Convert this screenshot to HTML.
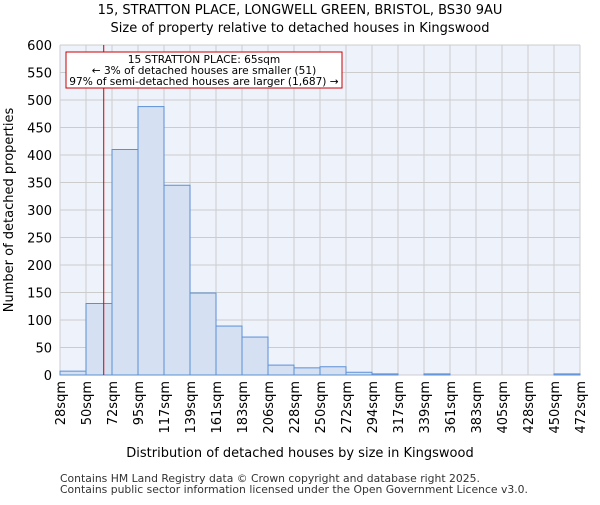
<!DOCTYPE html>
<html><head><meta charset="utf-8"><style>
body{margin:0;background:#fff;}
svg{font-family:"DejaVu Sans","Liberation Sans",sans-serif;}
</style></head><body>
<svg id="chart" width="600" height="500" xmlns="http://www.w3.org/2000/svg">
<text x="300" y="14" text-anchor="middle" font-size="13">15, STRATTON PLACE, LONGWELL GREEN, BRISTOL, BS30 9AU</text>
<text x="300" y="32" text-anchor="middle" font-size="13">Size of property relative to detached houses in Kingswood</text>
<rect x="60" y="45" width="520" height="330" fill="#eef2fb"/>
<g id="grid"></g>
<g id="bars"></g>
<g id="axes"></g>
<text x="300" y="457" text-anchor="middle" font-size="13">Distribution of detached houses by size in Kingswood</text>
<text transform="translate(13,210) rotate(-90)" text-anchor="middle" font-size="13">Number of detached properties</text>
<rect x="66" y="52" width="276" height="36" fill="#fff" stroke="#cc0000" stroke-width="1"/>
<text x="204" y="63" text-anchor="middle" font-size="10.6">15 STRATTON PLACE: 65sqm</text>
<text x="204" y="74" text-anchor="middle" font-size="10.6">← 3% of detached houses are smaller (51)</text>
<text x="204" y="85" text-anchor="middle" font-size="10.6">97% of semi-detached houses are larger (1,687) →</text>
<text x="60" y="482" font-size="10.8" fill="#333">Contains HM Land Registry data © Crown copyright and database right 2025.</text>
<text x="60" y="493" font-size="10.8" fill="#333">Contains public sector information licensed under the Open Government Licence v3.0.</text>
</svg>
<script>
const binLabels=["28sqm","50sqm","72sqm","95sqm","117sqm","139sqm","161sqm","183sqm","206sqm","228sqm","250sqm","272sqm","294sqm","317sqm","339sqm","361sqm","383sqm","405sqm","428sqm","450sqm","472sqm"];
const counts=[7,130,410,488,345,149,89,69,18,13,15,5,2,0,2,0,0,0,0,2];
const yTicks=[0,50,100,150,200,250,300,350,400,450,500,550,600];
const binEdges=[28,50,72,95,117,139,161,183,206,228,250,272,294,317,339,361,383,405,428,450,472];
const propertySize=65;
const NS="http://www.w3.org/2000/svg";
const X0=60,X1=580,Y0=375,Y1=45,yMax=600;
const nb=counts.length;
const xIdx=i=>X0+i*(X1-X0)/nb;
const y=v=>Y0-v*(Y0-Y1)/yMax;
function mk(t,a){const e=document.createElementNS(NS,t);for(const k in a)e.setAttribute(k,a[k]);return e;}
const grid=document.getElementById('grid'),bars=document.getElementById('bars'),axes=document.getElementById('axes');
yTicks.forEach(v=>{
 const l=mk('line',{x1:X0,x2:X1,y1:y(v),y2:y(v),stroke:'#cccccc','stroke-width':1});
 
 
 grid.appendChild(l);
 const t=mk('text',{x:X0-8,y:y(v)+5,'text-anchor':'end','font-size':13});
 t.textContent=v;
 
 
 axes.appendChild(t);
});
binLabels.forEach((lab,i)=>{
 const gx=xIdx(i);
 const l=mk('line',{x1:gx,x2:gx,y1:Y1,y2:Y0,stroke:'#cccccc','stroke-width':1});
 
 
 grid.appendChild(l);
 const t=mk('text',{transform:`translate(${gx+5},381) rotate(-90)`,'text-anchor':'end','font-size':13});
 t.textContent=lab;
 
 
 axes.appendChild(t);
});
counts.forEach((c,i)=>{
 const r=mk('rect',{x:xIdx(i),y:y(c),width:(X1-X0)/nb,height:Y0-y(c),fill:'#d6e0f3',stroke:'#5b8fd6','stroke-width':1});
 
 
 bars.appendChild(r);
});
let k=0;while(k<binEdges.length-2&&binEdges[k+1]<propertySize)k++;
const px=xIdx(k)+(propertySize-binEdges[k])/(binEdges[k+1]-binEdges[k])*(X1-X0)/nb;
const ml=mk('line',{x1:px,x2:px,y1:Y1,y2:Y0,stroke:'#cc0000','stroke-width':1});


bars.appendChild(ml);
</script>
</body></html>
